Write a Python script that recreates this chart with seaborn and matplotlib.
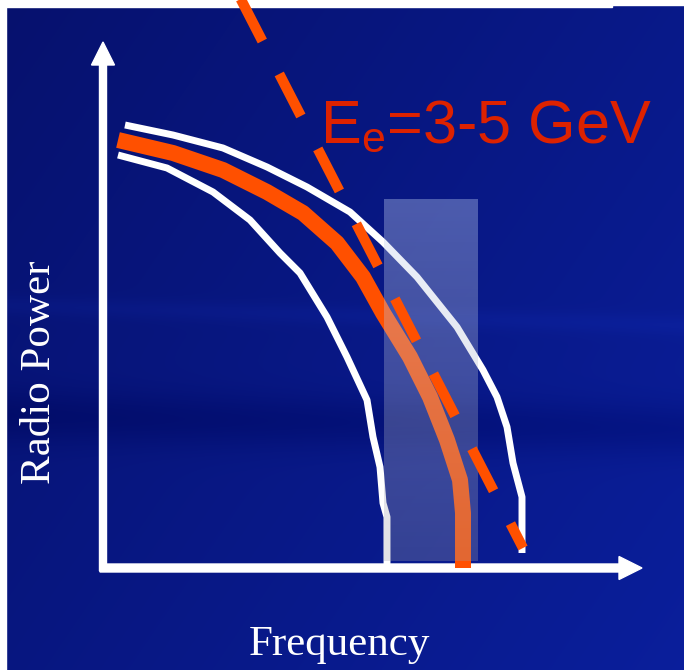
import numpy as np
import pandas as pd
import matplotlib
matplotlib.use("Agg")
import matplotlib.pyplot as plt
import seaborn as sns
from matplotlib.patches import Rectangle

# curves (frequency, radio power), origin at the axes corner
upper_freq = [22, 70, 120, 164, 204, 247, 280, 314, 354, 380, 394, 404, 410, 419, 419]
upper_power = [443, 433, 420, 401, 381, 356, 326, 291, 241, 198, 171, 141, 105, 71, 15]

mid_freq = [15, 70, 120, 164, 200, 234, 260, 280, 307, 327, 344, 357, 360, 360]
mid_power = [428, 415, 398, 376, 355, 325, 291, 255, 211, 171, 128, 88, 55, 0]

lower_freq = [15, 64, 110, 147, 177, 197, 224, 244, 264, 270, 277, 280, 284, 284]
lower_power = [413, 400, 376, 348, 315, 295, 251, 211, 168, 131, 101, 65, 51, 0]

# straight dashed line for the electron energy estimate
dash_freq = [130, 420]
dash_power = [584, 20]

# observed band
band_freq = [281, 375]
band_power = [7, 369]

label_text = "E$_\\mathregular{e}$=3-5 GeV"
x_label = "Frequency"
y_label = "Radio Power"

W, H = 684, 670
ox, oy = 103, 568  # pixel position of axes corner

sns.set_style("white")
fig = plt.figure(figsize=(W / 100, H / 100), dpi=100)
ax = fig.add_axes([0, 0, 1, 1])
ax.set_xlim(-ox, W - ox)
ax.set_ylim(oy - H, oy)
ax.axis("off")

# slide background
yy, xx = np.mgrid[0:H, 0:W]
xn, yn = xx / W, yy / H
t = np.clip(0.6 * xn + 0.4 * yn, 0, 1)
dark = np.array([0.024, 0.067, 0.43])
bright = np.array([0.04, 0.12, 0.61])
bg = dark + t[..., None] * (bright - dark)
band = np.exp(-((yn - 0.62 - 0.02 * xn) / 0.04) ** 2)
bg = bg - 0.06 * band[..., None] * np.array([0.3, 0.5, 1.0])
streak = np.exp(-((yn - 0.455 - 0.03 * xn) / 0.015) ** 2)
bg = bg + 0.035 * streak[..., None] * np.array([0.2, 0.4, 1.0])
ax.imshow(np.clip(bg, 0, 1), extent=(-ox, W - ox, oy - H, oy), origin="upper",
          aspect="auto", zorder=0)

# white slide margins
ax.add_patch(Rectangle((-ox, oy - 7), 612, 7, color="white", zorder=1))
ax.add_patch(Rectangle((-ox + 612, oy - 5), W - 612, 5, color="white", zorder=1))
ax.add_patch(Rectangle((-ox, oy - H), 6, H, color="white", zorder=1))

# axes arrows
ax.arrow(0, -3, 0, 529, width=7, head_width=23, head_length=23,
         length_includes_head=True, color="white", zorder=2)
ax.arrow(-3, 0, 542, 0, width=8, head_width=23, head_length=23,
         length_includes_head=True, color="white", zorder=2)

# spectra
for fx, py, col, lw in [(upper_freq, upper_power, "white", 5),
                        (lower_freq, lower_power, "white", 5),
                        (mid_freq, mid_power, "#ff5000", 11.5)]:
    sns.lineplot(x=fx, y=py, sort=False, estimator=None, color=col, lw=lw,
                 solid_capstyle="butt", ax=ax, zorder=2)

# shaded frequency band (vertical gradient)
grad = np.linspace(0, 1, 100)[:, None]
top_c = np.array([0.78, 0.84, 0.97, 0.36])
bot_c = np.array([0.62, 0.62, 0.66, 0.30])
rgba = top_c + grad[..., None] * (bot_c - top_c)
ax.imshow(rgba, extent=(band_freq[0], band_freq[1], band_power[0], band_power[1]),
          origin="upper", aspect="auto", zorder=3)

# dashed line
sns.lineplot(x=dash_freq, y=dash_power, sort=False, estimator=None, color="#ff5000",
             lw=7.4, linestyle=(0, (4.6, 3.6)), ax=ax, zorder=4)

ax.text(217, 425, label_text, color="#dd2200", fontsize=44,
        family=["Liberation Sans", "DejaVu Sans"], ha="left", va="baseline", zorder=5)
ax.text(236, -87, x_label, color="white", fontsize=31, family="Liberation Serif",
        ha="center", va="baseline", zorder=5)
ax.text(-63, 196, y_label, color="white", fontsize=31, family="Liberation Serif",
        rotation=90, ha="center", va="center", zorder=5)

ax.set_xlim(-ox, W - ox)
ax.set_ylim(oy - H, oy)
fig.savefig("out.png", dpi=100)
